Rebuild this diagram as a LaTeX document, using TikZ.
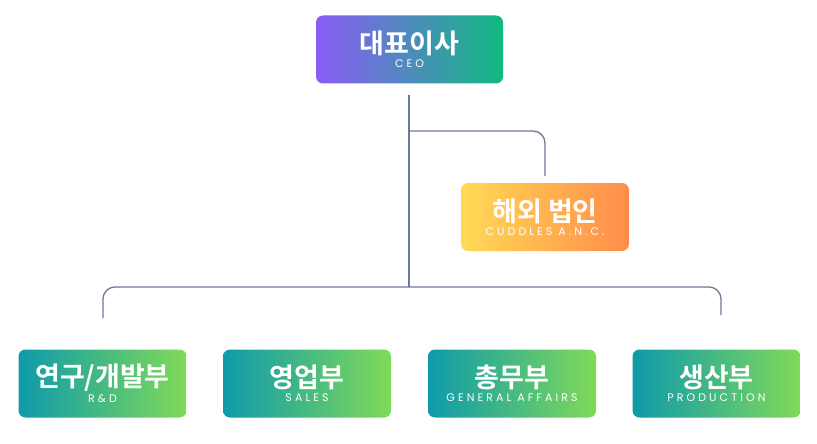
\documentclass[tikz,border=0pt]{standalone}
\usepackage{fontspec}
\newfontfamily\kr{Noto Sans CJK KR}[BoldFont={Noto Sans CJK KR Bold}]
\newfontfamily\sub[LetterSpace=28]{Poppins}
\definecolor{ln}{HTML}{6B7A99}
\definecolor{pu}{HTML}{8B5CF6}
\definecolor{gr}{HTML}{10B981}
\definecolor{ye}{HTML}{FFDA55}
\definecolor{or}{HTML}{FF8C4A}
\definecolor{te}{HTML}{0E9AAA}
\definecolor{lg}{HTML}{80DA58}
\tikzset{
 box/.style={rounded corners=7pt,minimum width=168pt,minimum height=68pt,text=white,align=center,inner sep=0pt},
 ceo/.style={box,minimum width=187pt,left color=pu,right color=gr},
 ovs/.style={box,left color=ye,right color=or},
 dep/.style={box,left color=te,right color=lg},
 conn/.style={ln,line width=1.3pt,rounded corners=12pt}
}
\newcommand{\bx}[2]{{\kr\bfseries\fontsize{27}{29}\selectfont #1}\\[2pt]{\sub\fontsize{11}{12}\selectfont #2}}
\begin{document}
\begin{tikzpicture}[x=1pt,y=-1pt]
\useasboundingbox (0,0) rectangle (817,444);
\node[ceo] (ceo) at (409.5,49.5) {\bx{대표이사}{CEO}};
\node[ovs] (ovs) at (545,217) {\bx{해외 법인}{CUDDLES A.N.C.}};
\node[dep] (d1) at (102.5,383.5) {\bx{연구/개발부}{R\&D}};
\node[dep] (d2) at (307,383.5) {\bx{영업부}{SALES}};
\node[dep] (d3) at (512,383.5) {\bx{총무부}{GENERAL AFFAIRS}};
\node[dep] (d4) at (716.5,383.5) {\bx{생산부}{PRODUCTION}};
\coordinate (top) at (409,95);
\coordinate (mid) at (409,287);
\coordinate (l) at (103,318);
\coordinate (r) at (721,315);
\coordinate (o) at (545,176);
\draw[conn] (top) -- (mid);
\draw[conn] (409,131) -| (o);
\draw[conn] (l) |- (mid) -| (r);
\end{tikzpicture}
\end{document}
